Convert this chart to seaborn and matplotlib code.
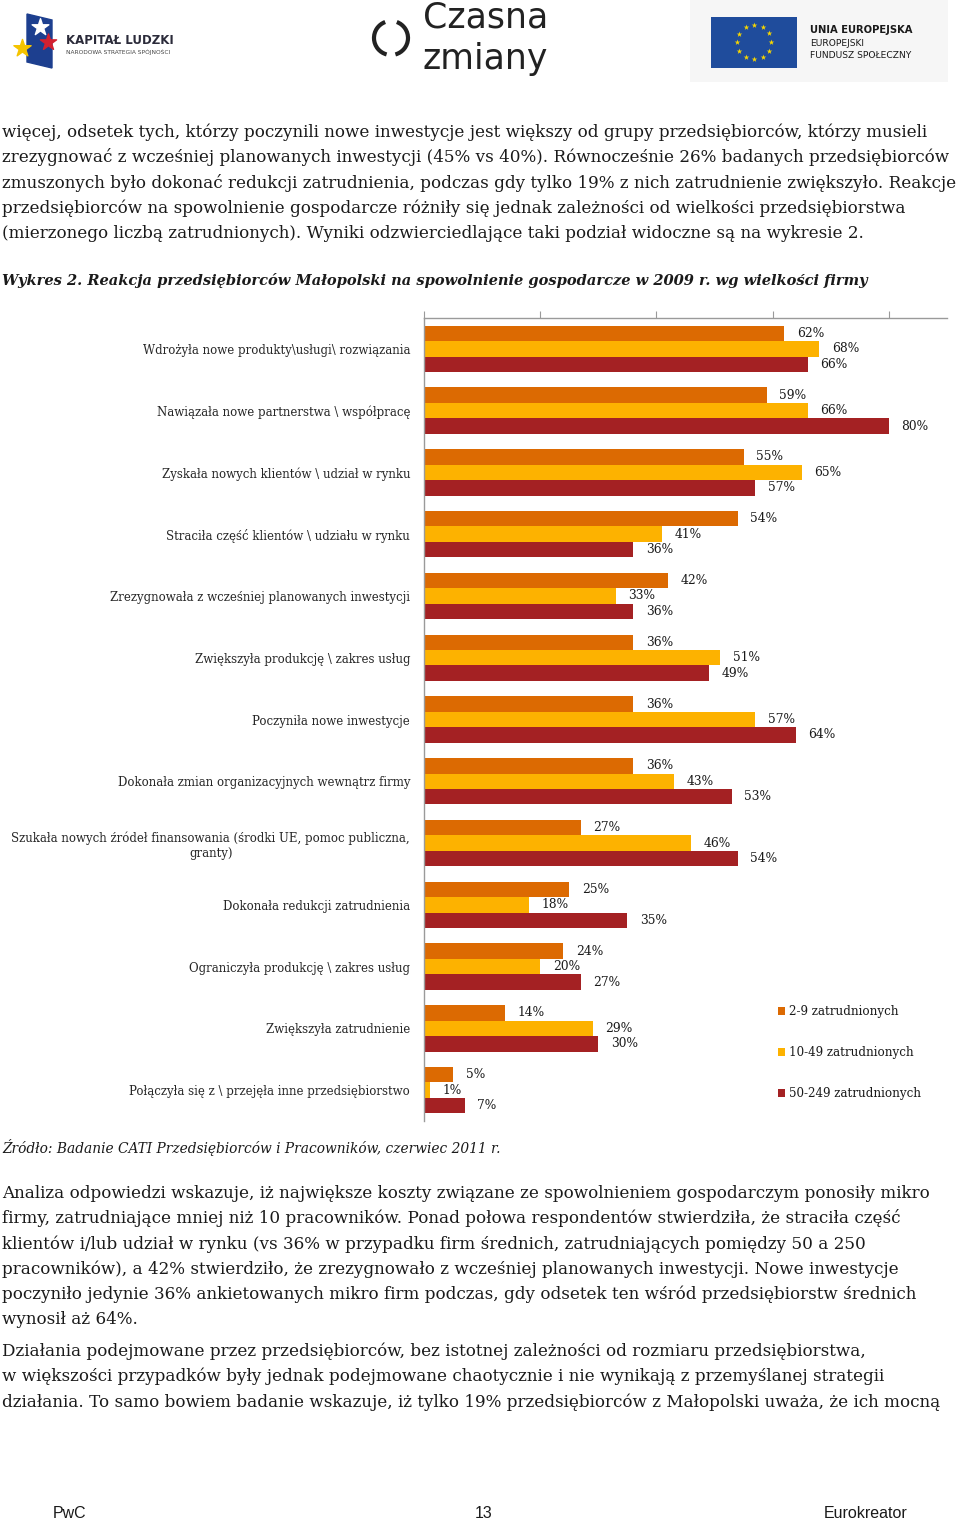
import numpy as np
import pandas as pd
import matplotlib.pyplot as plt
import matplotlib.patches as mpatches
import seaborn as sns

# Chart data (Wykres 2)
categories = [
    'Wdrożyła nowe produkty\\usługi\\ rozwiązania',
    'Nawiązała nowe partnerstwa \\ współpracę',
    'Zyskała nowych klientów \\ udział w rynku',
    'Straciła część klientów \\ udziału w rynku',
    'Zrezygnowała z wcześniej planowanych inwestycji',
    'Zwiększyła produkcję \\ zakres usług',
    'Poczyniła nowe inwestycje',
    'Dokonała zmian organizacyjnych wewnątrz firmy',
    'Szukała nowych źródeł finansowania (środki UE, pomoc publiczna,\ngranty)',
    'Dokonała redukcji zatrudnienia',
    'Ograniczyła produkcję \\ zakres usług',
    'Zwiększyła zatrudnienie',
    'Połączyła się z \\ przejęła inne przedsiębiorstwo',
]
groups = ['2-9 zatrudnionych', '10-49 zatrudnionych', '50-249 zatrudnionych']
vals_2_9 = [62, 59, 55, 54, 42, 36, 36, 36, 27, 25, 24, 14, 5]
vals_10_49 = [68, 66, 65, 41, 33, 51, 57, 43, 46, 18, 20, 29, 1]
vals_50_249 = [66, 80, 57, 36, 36, 49, 64, 53, 54, 35, 27, 30, 7]
colors = ['#DC6A02', '#FDB200', '#A42123']

# page text
para1 = [
    'więcej, odsetek tych, którzy poczynili nowe inwestycje jest większy od grupy przedsiębiorców, którzy musieli',
    'zrezygnować z wcześniej planowanych inwestycji (45% vs 40%). Równocześnie 26% badanych przedsiębiorców',
    'zmuszonych było dokonać redukcji zatrudnienia, podczas gdy tylko 19% z nich zatrudnienie zwiększyło. Reakcje',
    'przedsiębiorców na spowolnienie gospodarcze różniły się jednak zależności od wielkości przedsiębiorstwa',
    '(mierzonego liczbą zatrudnionych). Wyniki odzwierciedlające taki podział widoczne są na wykresie 2.',
]
caption = 'Wykres 2. Reakcja przedsiębiorców Małopolski na spowolnienie gospodarcze w 2009 r. wg wielkości firmy'
source = 'Źródło: Badanie CATI Przedsiębiorców i Pracowników, czerwiec 2011 r.'
para2 = [
    'Analiza odpowiedzi wskazuje, iż największe koszty związane ze spowolnieniem gospodarczym ponosiły mikro',
    'firmy, zatrudniające mniej niż 10 pracowników. Ponad połowa respondentów stwierdziła, że straciła część',
    'klientów i/lub udział w rynku (vs 36% w przypadku firm średnich, zatrudniających pomiędzy 50 a 250',
    'pracowników), a 42% stwierdziło, że zrezygnowało z wcześniej planowanych inwestycji. Nowe inwestycje',
    'poczyniło jedynie 36% ankietowanych mikro firm podczas, gdy odsetek ten wśród przedsiębiorstw średnich',
    'wynosił aż 64%.',
]
para3 = [
    'Działania podejmowane przez przedsiębiorców, bez istotnej zależności od rozmiaru przedsiębiorstwa,',
    'w większości przypadków były jednak podejmowane chaotycznie i nie wynikają z przemyślanej strategii',
    'działania. To samo bowiem badanie wskazuje, iż tylko 19% przedsiębiorców z Małopolski uważa, że ich mocną',
]

df = pd.DataFrame({
    'kategoria': categories * 3,
    'grupa': [g for g in groups for _ in categories],
    'wartosc': vals_2_9 + vals_10_49 + vals_50_249,
})

sns.set_style('white')
plt.rcParams['font.family'] = ['DejaVu Serif']
plt.rcParams['text.color'] = '#1a1a1a'

fig = plt.figure(figsize=(9.6, 15.2), dpi=100)

# page layer in pixel coordinates
bg = fig.add_axes([0, 0, 1, 1], zorder=0)
bg.set_xlim(0, 960)
bg.set_ylim(1520, 0)
bg.axis('off')

# --- header logos ---
bg.add_patch(mpatches.Polygon([[27, 14], [52, 20], [52, 68], [27, 62]], closed=True, color='#1d3f8f'))
bg.scatter([40], [27], marker='*', s=160, color='white', zorder=3)
bg.scatter([48], [42], marker='*', s=150, color='#d32030', zorder=3)
bg.scatter([22], [48], marker='*', s=170, color='#f5c400', zorder=3)
bg.text(66, 41, 'KAPITAŁ LUDZKI', fontsize=8.5, family='DejaVu Sans', weight='bold', color='#2b2b3a', va='center')
bg.text(66, 52, 'NARODOWA STRATEGIA SPÓJNOŚCI', fontsize=4.2, family='DejaVu Sans', color='#444', va='center')

bg.add_patch(mpatches.Arc((391, 38), 34, 34, theta1=105, theta2=250, lw=3, color='#222'))
bg.add_patch(mpatches.Arc((391, 38), 34, 34, theta1=-70, theta2=75, lw=3, color='#222'))
bg.text(423, 18, 'Czasna', fontsize=25, family='DejaVu Sans', color='#222', va='center')
bg.text(423, 59.5, 'zmiany', fontsize=25, family='DejaVu Sans', color='#222', va='center')

bg.add_patch(mpatches.Rectangle((690, 0), 258, 82, color='#f6f6f6', lw=0))
bg.add_patch(mpatches.Rectangle((711, 17), 86, 51, color='#1f4c9c', lw=0))
ang = np.deg2rad(np.arange(0, 360, 30))
bg.scatter(754 + 17 * np.cos(ang), 42 + 17 * np.sin(ang), marker='*', s=18, color='#f7d600', lw=0, zorder=3)
bg.text(810, 30, 'UNIA EUROPEJSKA', fontsize=7.2, family='DejaVu Sans', weight='bold', color='#1a1a1a', va='center')
bg.text(810, 43, 'EUROPEJSKI', fontsize=6.6, family='DejaVu Sans', color='#1a1a1a', va='center')
bg.text(810, 55, 'FUNDUSZ SPOŁECZNY', fontsize=6.6, family='DejaVu Sans', color='#1a1a1a', va='center')

# --- body text ---
body_size = 12.05
for i, line in enumerate(para1):
    bg.text(2, 132 + i * 25.5, line, fontsize=body_size, va='center')
bg.text(2, 280, caption, fontsize=10.55, style='italic', weight='bold', va='center')
bg.text(2, 1148, source, fontsize=9.95, style='italic', va='center')
for i, line in enumerate(para2):
    bg.text(2, 1193 + i * 25.4, line, fontsize=body_size, va='center')
for i, line in enumerate(para3):
    bg.text(2, 1351 + i * 25.5, line, fontsize=body_size, va='center')

bg.text(53, 1513, 'PwC', fontsize=11.5, family='Liberation Sans', va='center')
bg.text(475, 1513, '13', fontsize=11.5, family='Liberation Sans', va='center')
bg.text(824, 1513, 'Eurokreator', fontsize=11.5, family='Liberation Sans', va='center')

# --- chart ---
ax = fig.add_axes([424 / 960, 1 - 1121 / 1520, 523 / 960, 803 / 1520], zorder=1)
ax.patch.set_alpha(0)
sns.barplot(data=df, y='kategoria', x='wartosc', hue='grupa', hue_order=groups,
            palette=colors, orient='h', width=0.75, saturation=1, errorbar=None,
            linewidth=0, ax=ax)

for cont, vals in zip(ax.containers, [vals_2_9, vals_10_49, vals_50_249]):
    ax.bar_label(cont, labels=[f'{v}%' for v in vals], padding=9, fontsize=8.8, color='#1a1a1a')

ax.set_xlim(0, 90)
ax.set_ylim(len(categories) - 0.5, -0.5)
ax.set_xlabel('')
ax.set_ylabel('')
ax.xaxis.tick_top()
ax.set_xticks([0, 20, 40, 60, 80])
ax.tick_params(axis='x', length=5, color='#9a9a9a', labeltop=False, labelbottom=False)
ax.set_yticks(range(len(categories)))
ax.set_yticklabels(categories, fontsize=8.45, multialignment='center')
ax.set_yticks(np.arange(-0.5, len(categories), 1.0), minor=True)
ax.tick_params(axis='y', which='major', length=0, pad=10)
ax.tick_params(axis='y', which='minor', length=5, color='#9a9a9a', direction='out')
for side in ['bottom', 'right']:
    ax.spines[side].set_visible(False)
for side in ['top', 'left']:
    ax.spines[side].set_color('#9a9a9a')
    ax.spines[side].set_linewidth(1)

ax.legend(loc='center left', bbox_to_anchor=(0.666, 0.085), frameon=False,
          fontsize=8.6, handlelength=0.6, handleheight=0.6, handletextpad=0.3,
          labelspacing=2.35, borderpad=0)

fig.savefig('out.png', dpi=100)
